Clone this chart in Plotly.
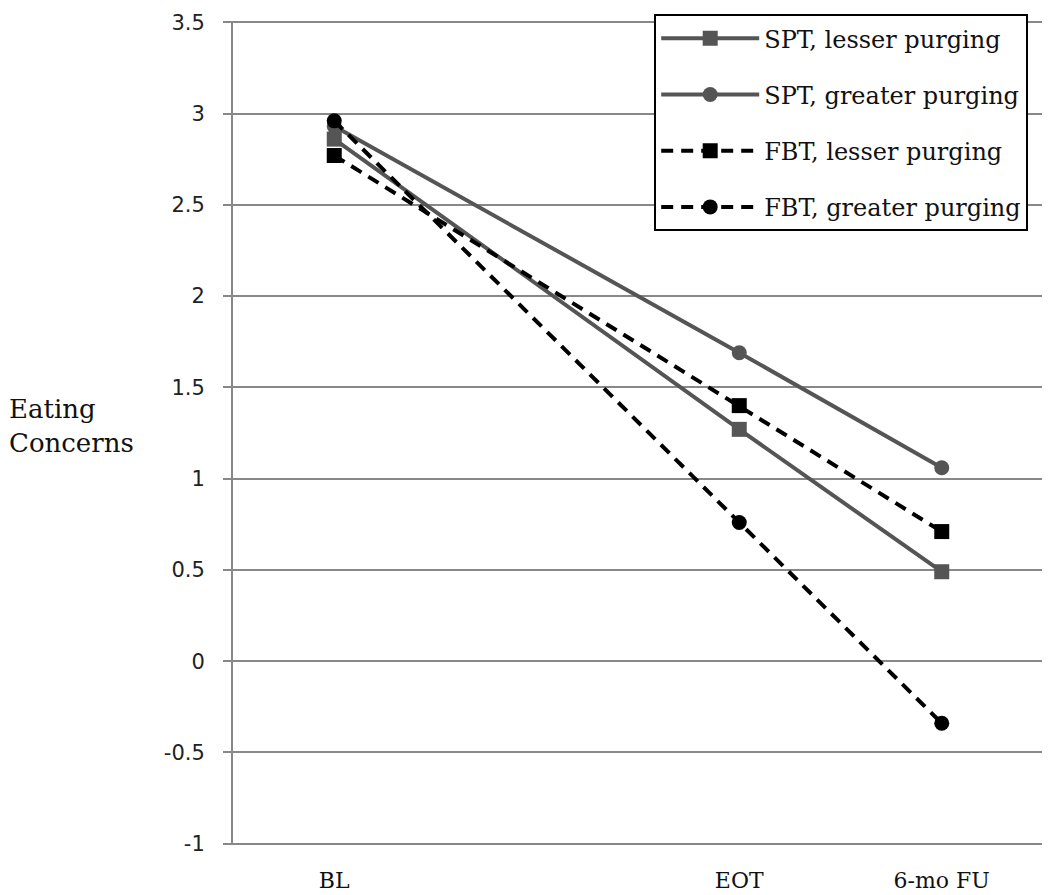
import plotly.graph_objects as go

timepoints = [0, 12, 18]
tick_labels = ["BL", "EOT", "6-mo FU"]
series_names = ["SPT, lesser purging", "SPT, greater purging",
                "FBT, lesser purging", "FBT, greater purging"]
spt_lesser = [2.86, 1.27, 0.49]
spt_greater = [2.93, 1.69, 1.06]
fbt_lesser = [2.77, 1.40, 0.71]
fbt_greater = [2.96, 0.76, -0.34]
y_ticks = [-1, -0.5, 0, 0.5, 1, 1.5, 2, 2.5, 3, 3.5]

serif = "DejaVu Serif"
gray = "#555555"

fig = go.Figure()
styles = [
    (spt_lesser, gray, "solid", "square"),
    (spt_greater, gray, "solid", "circle"),
    (fbt_lesser, "black", "dash", "square"),
    (fbt_greater, "black", "dash", "circle"),
]
for i, (vals, col, dash, sym) in enumerate(styles):
    fig.add_trace(go.Scatter(
        x=timepoints, y=vals, name=series_names[i], mode="lines+markers",
        legendgroup=f"g{i}",
        line=dict(color=col, width=4, dash="12px,8px" if dash == "dash" else "solid"),
        marker=dict(color=col, symbol=sym, size=15),
    ))

fig.update_layout(
    width=1042, height=887,
    margin=dict(l=225, r=7, t=12, b=50),
    plot_bgcolor="white", paper_bgcolor="white",
    showlegend=True,
    legend=dict(
        x=0.52, y=1.007, xanchor="left", yanchor="top",
        bordercolor="black", borderwidth=2, bgcolor="white",
        font=dict(family=serif, size=24, color="#111"),
        tracegroupgap=22, itemwidth=98,
    ),
    xaxis=dict(
        range=[-3, 21], tickvals=timepoints, ticktext=tick_labels,
        showgrid=False, zeroline=False, showline=False, ticks="",
        automargin=False, ticklabelstandoff=20,
        tickfont=dict(family=serif, size=22, color="#111"),
    ),
    yaxis=dict(
        range=[-1.007, 3.507], tickvals=y_ticks,
        ticktext=[("%g" % v) for v in y_ticks],
        showgrid=True, gridcolor="#888888", gridwidth=2,
        zeroline=False, showline=True, linecolor="#888888", linewidth=2,
        ticks="outside", ticklen=8, tickcolor="#888888", tickwidth=2,
        automargin=False, ticklabelstandoff=14, ticklabeloverflow="allow",
        tickfont=dict(family="DejaVu Sans", size=21, color="#222"),
    ),
    annotations=[dict(
        text="Eating<br>Concerns", xref="paper", yref="paper",
        x=-0.279, y=0.508, xanchor="left", yanchor="middle", showarrow=False,
        align="left", font=dict(family=serif, size=26, color="#111"),
    )],
)

fig.write_html("out.html")
